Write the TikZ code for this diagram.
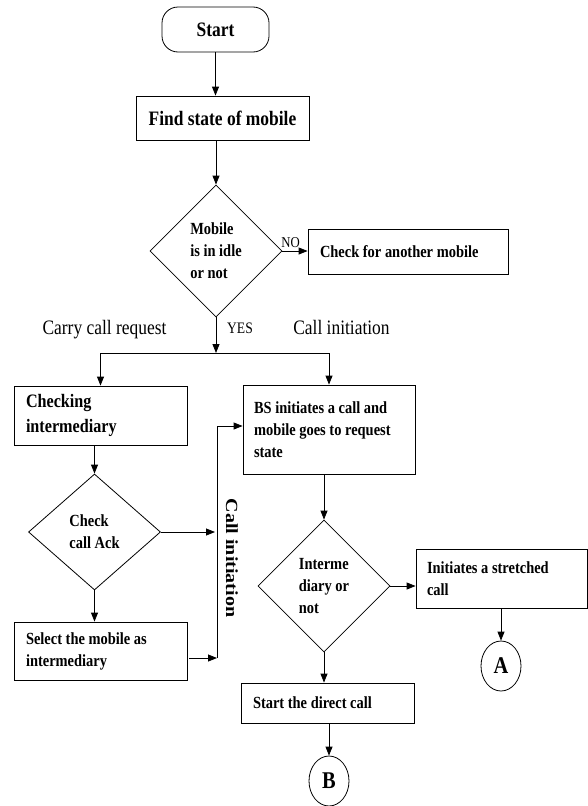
\documentclass[tikz,border=0pt]{standalone}
\usepackage{fontspec}
\setmainfont{Liberation Serif}[FakeStretch=0.85]
\newfontfamily\plainserif{Liberation Serif}
\usetikzlibrary{arrows.meta,shapes.geometric}
\begin{document}
\begin{tikzpicture}[x=1pt,y=-1pt,
  line width=0.8pt,
  arr/.style={-{Triangle[length=9pt,width=7pt]}},
  box/.style={draw, rectangle, inner sep=0pt, font=\fontsize{17}{22}\selectfont\bfseries},
  lbox/.style={box, align=flush left, inner xsep=12pt},
  dia/.style={draw, diamond, aspect=1, inner sep=0pt, align=left, font=\fontsize{17}{22}\selectfont\bfseries},
  circ/.style={draw, ellipse, minimum width=40pt, minimum height=50pt, inner sep=0pt, font=\fontsize{24}{28}\selectfont\bfseries},
  lab/.style={font=\fontsize{20.5}{24}\selectfont, anchor=base}
]
\useasboundingbox (0,0) rectangle (588,806);

% nodes
\node[box, rounded corners=16pt, minimum width=107pt, minimum height=45pt, font=\fontsize{20.5}{24}\selectfont\bfseries] (start) at (215.5,29.5) {Start};
\node[box, minimum width=173pt, minimum height=44pt, font=\fontsize{20.5}{24}\selectfont\bfseries] (find) at (222.5,118) {Find state of mobile};
\node[dia, minimum width=132pt, minimum height=132pt] (d1) at (216,251) {Mobile\\is in idle\\or not};
\node[lbox, text width=176pt, minimum height=45pt] (other) at (408,251.5) {Check for another mobile};
\node[font=\fontsize{15}{18}\selectfont, anchor=base] (no) at (290.5,247) {NO};
\node[font=\fontsize{16}{18}\selectfont, anchor=base] (yes) at (240,333) {YES};
\node[lab] (carry) at (104.5,334) {Carry call request};
\node[lab] (ci) at (341.5,334) {Call initiation};
\coordinate (split) at (216,353);

\node[lbox, text width=149pt, minimum height=59pt, font=\fontsize{19}{25}\selectfont\bfseries] (chk) at (100.5,415.5) {Checking\\intermediary};
\node[lbox, text width=150pt, inner xsep=11pt, minimum height=89pt] (bs) at (329,429.5) {BS initiates a call and\\mobile goes to request\\state};
\node[dia, minimum width=132pt, minimum height=116pt] (d2) at (94.5,532) {Check\\call Ack};
\node[lbox, text width=149pt, minimum height=58pt] (sel) at (100.5,651) {Select the mobile as\\intermediary};
\coordinate (vb) at (217,658);
\coordinate (vt) at (217,426);
\node[font=\plainserif\fontsize{20}{24}\selectfont\bfseries, xscale=0.85, rotate=-90] (ci2) at (232,558) {Call initiation};

\node[dia, minimum width=132pt, minimum height=132pt] (d3) at (324,586) {Interme\\diary or\\not};
\node[lbox, text width=149pt, inner xsep=11pt, minimum height=59pt] (init) at (501.5,578.5) {Initiates a stretched\\call};
\node[circ] (A) at (501,666) {A};
\node[lbox, text width=149pt, minimum height=40pt] (direct) at (327.5,703) {Start the direct call};
\node[circ] (B) at (329,781) {B};

% connectors
\draw[arr] (start.south) -- (start.south |- find.north);
\draw[arr] (d1.north |- find.south) -- (d1.north);
\draw[arr] (d1.east) -- (d1.east -| other.west);
\draw[arr] (d1.south) -- (split);
\draw[arr] (split) -| (chk.north);
\draw[arr] (split) -| (bs.north);
\draw[arr] (d2.north |- chk.south) -- (d2.north);
\draw[arr] (d2.east) -- ([xshift=-2pt]d2.east -| vb);
\draw[arr] (d2.south) -- (d2.south |- sel.north);
\draw[arr] ([xshift=2pt]sel.east |- vb) -- (vb);
\draw[arr] (vb) -- (vt) -- (vt -| bs.west);
\draw[arr] (d3.north |- bs.south) -- (d3.north);
\draw[arr] (d3.east) -- (d3.east -| init.west);
\draw[arr] (A.north |- init.south) -- (A.north);
\draw[arr] (d3.south) -- (d3.south |- direct.north);
\draw[arr] (B.north |- direct.south) -- (B.north);
\end{tikzpicture}
\end{document}
